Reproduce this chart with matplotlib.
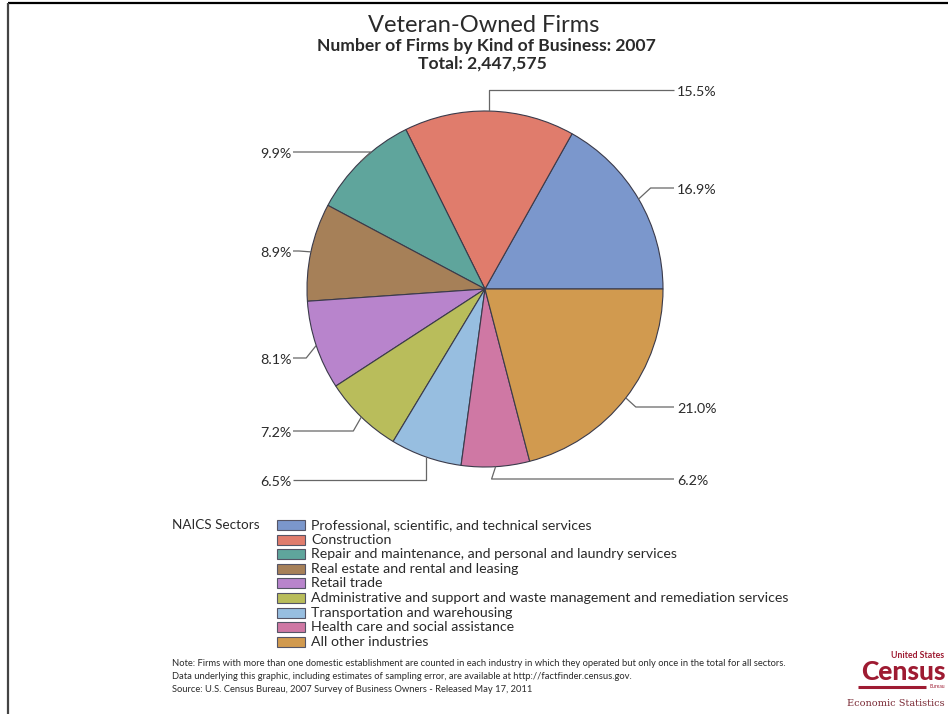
import matplotlib
matplotlib.use("Agg")
import matplotlib.pyplot as plt
from matplotlib.patches import Rectangle
import numpy as np

W, H = 948, 714

sectors = [
    "Professional, scientific, and technical services",
    "Construction",
    "Repair and maintenance, and personal and laundry services",
    "Real estate and rental and leasing",
    "Retail trade",
    "Administrative and support and waste management and remediation services",
    "Transportation and warehousing",
    "Health care and social assistance",
    "All other industries",
]
shares = [16.9, 15.5, 9.9, 8.9, 8.1, 7.2, 6.5, 6.2, 21.0]
pct_labels = ["16.9%", "15.5%", "9.9%", "8.9%", "8.1%", "7.2%", "6.5%", "6.2%", "21.0%"]
colors = ["#7b97cc", "#e07c6c", "#5fa59c", "#a68058", "#b884cc",
          "#b9bd5b", "#97bee0", "#cf78a4", "#d19a4f"]

# label layout (pixels): side, line y, elbow x-offset from wedge edge
lab_side = ["R", "R", "L", "L", "L", "L", "L", "R", "R"]
lab_y = [188, 90, 152, 251, 358, 431, 480, 479, 407]
lab_dx = [12, 0, 10, -12, -10, -8, 0, -4, 10]

FONT = "Lato"
TXT = "#2a2a2a"
RED = "#9e1b32"

fig = plt.figure(figsize=(W / 100, H / 100), dpi=100)
fig.patch.set_facecolor("white")
ax = fig.add_axes([0, 0, 1, 1])

cx, cy, r = 485, 289, 178
wedges, _ = ax.pie(shares, colors=colors, startangle=0, counterclock=False,
                   center=(cx, cy), radius=r,
                   wedgeprops={"edgecolor": "#3a3a4a", "linewidth": 0.8})
ax.set_xlim(0, W)
ax.set_ylim(H, 0)
ax.set_axis_off()

# leader lines + percent labels
for w, lab, side, ly, dx in zip(wedges, pct_labels, lab_side, lab_y, lab_dx):
    mid = np.deg2rad((w.theta1 + w.theta2) / 2)
    ex, ey = cx + r * np.cos(mid), cy + r * np.sin(mid)
    end_x = 674 if side == "R" else 293
    ax.plot([ex, ex + dx, end_x], [ey, ly, ly], color="#666666", lw=0.9,
            solid_capstyle="butt")
    if side == "R":
        ax.text(end_x + 3, ly + 2, lab, ha="left", va="center",
                fontsize=10.3, color=TXT, family=FONT)
    else:
        ax.text(end_x - 1, ly + 2, lab, ha="right", va="center",
                fontsize=10.3, color=TXT, family=FONT)

# titles
ax.text(484, 25, "Veteran-Owned Firms", ha="center", va="center",
        fontsize=17, color=TXT, family=FONT)
ax.text(486, 46, "Number of Firms by Kind of Business: 2007", ha="center",
        va="center", fontsize=12.6, fontweight="bold", color=TXT, family=FONT)
ax.text(482, 64, "Total: 2,447,575", ha="center", va="center",
        fontsize=12.6, fontweight="bold", color=TXT, family=FONT)

# legend
ax.text(172, 525, "NAICS Sectors", ha="left", va="center",
        fontsize=9.7, color=TXT, family=FONT)
for i, (name, col) in enumerate(zip(sectors, colors)):
    y = 525 + i * 14.6
    ax.add_patch(Rectangle((277, y - 5), 28, 10, facecolor=col,
                           edgecolor="#555566", lw=0.8))
    ax.text(311, y, name, ha="left", va="center", fontsize=10.2,
            color=TXT, family=FONT)

# footnotes
notes = [
    "Note: Firms with more than one domestic establishment are counted in each industry in which they operated but only once in the total for all sectors.",
    "Data underlying this graphic, including estimates of sampling error, are available at http://factfinder.census.gov.",
    "Source: U.S. Census Bureau, 2007 Survey of Business Owners - Released May 17, 2011",
]
for i, t in enumerate(notes):
    ax.text(172, 663 + i * 13.5, t, ha="left", va="center", fontsize=6.75,
            color=TXT, family=FONT)

# census logo
ax.text(944, 656, "United States", ha="right", va="center", fontsize=6.3,
        fontweight="bold", color=RED, family=FONT)
ax.text(946, 672, "Census", ha="right", va="center", fontsize=19,
        fontweight="black", color=RED, family=FONT)
ax.plot([858, 926], [687, 687], color=RED, lw=2.2, solid_capstyle="butt")
ax.text(945, 687, "Bureau", ha="right", va="center", fontsize=3.5,
        color=RED, family=FONT)
ax.text(945, 703, "Economic Statistics", ha="right", va="center",
        fontsize=7, color="#7a2a35", family="DejaVu Serif")

# frame
ax.plot([8, W], [3, 3], color="black", lw=1.6, solid_capstyle="butt")
ax.plot([8, 8], [3, H], color="#444444", lw=1.6, solid_capstyle="butt")

fig.savefig("out.png", dpi=100, facecolor="white")
